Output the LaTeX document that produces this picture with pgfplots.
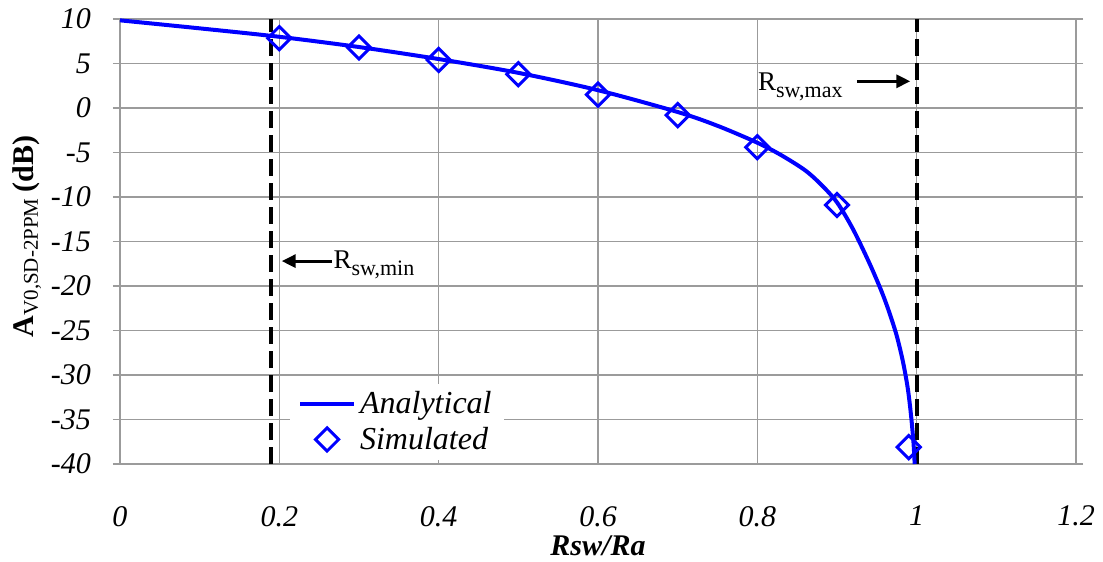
\documentclass[border=0pt]{standalone}
\usepackage{fontspec}
\setmainfont{Liberation Serif}[
  ItalicFont={Liberation Serif Italic},
  BoldFont={Liberation Serif Bold},
  BoldItalicFont={Liberation Serif Bold Italic}]
\usepackage{pgfplots}
\pgfplotsset{compat=1.18}
\usetikzlibrary{arrows.meta}

\definecolor{gridgray}{RGB}{155,155,155}
\definecolor{curveblue}{RGB}{0,0,255}

\pgfplotsset{
  curve key/.style={legend image code/.code={\draw[##1] (0pt,0pt) -- (27pt,0pt);}},
  diamond key/.style={legend image code/.code={\draw[mark repeat=2, mark phase=2, ##1]
    plot coordinates {(0pt,0pt) (13.5pt,0pt) (27pt,0pt)};}},
}
% R with a lowered subscript, as in the limit labels
\newcommand{\Rsub}[1]{{\fontsize{13.5}{13.5}\selectfont R}\raisebox{-3.5pt}{\fontsize{11}{11}\selectfont #1}}

% Analytical gain curve
\pgfplotstableread{
x      y
0      9.85
0.1    8.95
0.2    8.0
0.3    6.85
0.4    5.5
0.5    3.95
0.6    2.0
0.7    -0.45
0.75   -2.0
0.8    -3.9
0.83   -5.3
0.86   -7.0
0.88   -8.6
0.9    -10.6
0.92   -13.6
0.94   -17.3
0.955  -20.4
0.965  -22.8
0.975  -25.6
0.983  -28.6
0.989  -31.6
0.993  -34.6
0.996  -37.6
0.9975 -40
}\analytical

% Simulated gain
\pgfplotstableread{
x     y
0.2   7.85
0.3   6.8
0.4   5.4
0.5   3.8
0.6   1.5
0.7   -0.8
0.8   -4.4
0.9   -10.9
0.99  -38.1
}\simulated

\begin{document}
\begin{tikzpicture}
\begin{axis}[
  scale only axis,
  width=478pt, height=222.5pt,
  xmin=0, xmax=1.2, ymin=-40, ymax=10,
  xtick={0,0.2,0.4,0.6,0.8,1,1.2},
  ytick={-40,-35,-30,-25,-20,-15,-10,-5,0,5,10},
  grid=major,
  grid style={gridgray, line width=0.6pt},
  axis line style={gridgray, line width=0.6pt},
  tick align=outside,
  major tick length=3.5pt,
  xtick style={draw=none},
  ytick style={gridgray, line width=0.6pt},
  /pgf/number format/assume math mode=true,
  ticklabel style={font=\fontsize{15}{15}\selectfont\itshape},
  xticklabel style={yshift=-14pt},
  yticklabel style={xshift=-7.5pt},
  xlabel={\textbf{\textit{Rsw/Ra}}},
  xlabel style={font=\fontsize{15}{15}\selectfont, yshift=2pt},
  ylabel={\textbf{A}\textsubscript{V0,SD-2PPM}\,\textbf{(dB)}},
  ylabel style={font=\fontsize{15}{15}\selectfont, yshift=-2pt, xshift=2.5pt},
  clip=false,
  legend style={at={(axis cs:0.213,-39.6)}, anchor=south west,
    draw=none, fill=white, font=\fontsize{16}{16}\selectfont\itshape,
    row sep=1pt, inner xsep=4pt, inner ysep=2pt},
  legend cell align=left,
]
\coordinate (sw) at (rel axis cs:0,0);
\coordinate (ne) at (rel axis cs:1,1);

% limits of the switch resistance
\addplot[black, line width=2pt, dash pattern=on 8.5pt off 3.5pt, forget plot]
  coordinates {(0.19,-40) (0.19,10)};
\addplot[black, line width=2pt, dash pattern=on 8.5pt off 3.5pt, forget plot]
  coordinates {(1.0,-40) (1.0,10)};

\addplot[curveblue, line width=2pt, smooth, tension=0.5, curve key]
  table[x=x, y=y] {\analytical};
\addlegendentry{Analytical}

\addplot[curveblue, only marks, mark=square, mark size=4.1pt,
  mark options={rotate=45, line width=1.5pt, fill=white}, diamond key]
  table[x=x, y=y] {\simulated};
\addlegendentry{Simulated}

% annotations
\draw[-{Triangle[length=7pt,width=6.5pt]}, line width=1.5pt]
  (axis cs:0.2655,-17.2) -- (axis cs:0.203,-17.2);
\node[anchor=base west, inner sep=0pt] at (axis cs:0.2675,-17.98) {\Rsub{sw,min}};
\draw[-{Triangle[length=7pt,width=6.5pt]}, line width=1.5pt]
  (axis cs:0.925,3.0) -- (axis cs:0.992,3.0);
\node[anchor=base west, inner sep=0pt] at (axis cs:0.8005,2.0) {\Rsub{sw,max}};
\end{axis}
\pgfresetboundingbox
\path[use as bounding box] ([shift={(-60pt,-49pt)}]sw) rectangle ([shift={(13.5pt,9.5pt)}]ne);
\end{tikzpicture}
\end{document}
